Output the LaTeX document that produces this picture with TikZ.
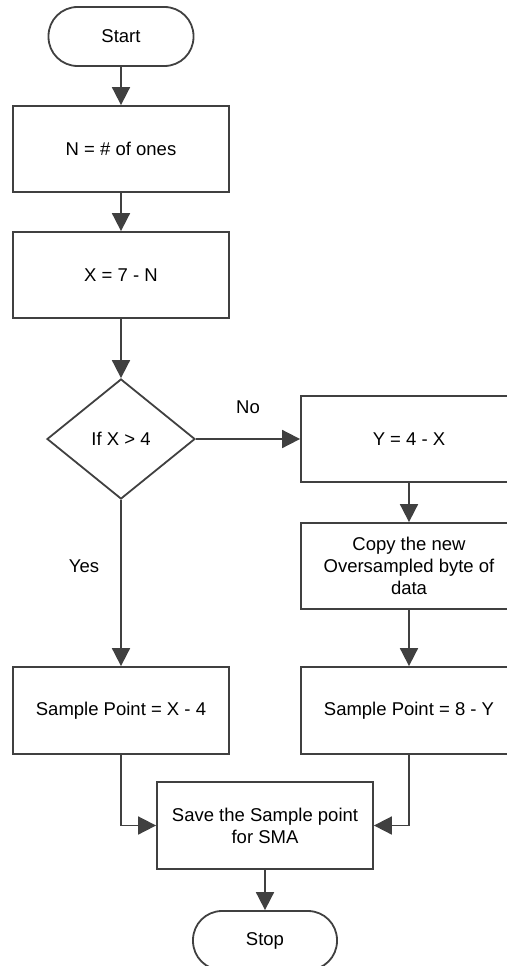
\documentclass[tikz,border=0pt]{standalone}
\usepackage{fontspec}
\setmainfont{Liberation Sans}
\usetikzlibrary{shapes.geometric,arrows.meta}
\definecolor{linegray}{HTML}{404040}
\begin{document}
\begin{tikzpicture}[x=1pt,y=-1pt,
  every node/.style={font=\fontsize{18.5}{22}\selectfont, text=black},
  procbox/.style={draw=linegray, line width=1.8pt, rectangle, minimum width=216pt, minimum height=86pt, inner sep=2pt, align=center},
  termbox/.style={draw=linegray, line width=1.8pt, rectangle, rounded corners=29pt, minimum width=145pt, minimum height=59pt, inner sep=2pt},
  decbox/.style={draw=linegray, line width=1.8pt, diamond, minimum width=148pt, minimum height=120pt, inner sep=0pt},
  flow/.style={draw=linegray, line width=1.8pt, -{Triangle[width=18pt,length=18pt]}},
  lbl/.style={inner sep=0pt}
]
\useasboundingbox (0,0) rectangle (506,966);
\node[termbox] (start) at (121,36.5) {Start};
\node[procbox] (n) at (121,149) {N = \# of ones};
\node[procbox] (x) at (121,275) {X = 7 - N};
\node[decbox] (dec) at (121,439) {If X > 4};
\node[procbox] (y) at (409,439) {Y = 4 - X};
\node[procbox] (copy) at (409,566) {Copy the new\\Oversampled byte of\\data};
\node[procbox, minimum height=87pt] (sl) at (121,710.5) {Sample Point = X - 4};
\node[procbox, minimum height=87pt] (sr) at (409,710.5) {Sample Point = 8 - Y};
\node[procbox, minimum height=87pt] (save) at (265,825.5) {Save the Sample point\\for SMA};
\node[termbox, minimum width=144pt] (stop) at (265,940.5) {Stop};
\node[lbl] (no) at (248,407) {No};
\node[lbl] (yes) at (84,566) {Yes};

\draw[flow] (start.south) -- (n.north);
\draw[flow] (n.south) -- (x.north);
\draw[flow] (x.south) -- (dec.north);
\draw[flow] (dec.east) -- (y.west);
\draw[flow] (dec.south) -- (sl.north);
\draw[flow] (y.south) -- (copy.north);
\draw[flow] (copy.south) -- (sr.north);
\draw[flow] (sl.south) |- (save.west);
\draw[flow] (sr.south) |- (save.east);
\draw[flow] (save.south) -- (stop.north);
\end{tikzpicture}
\end{document}
